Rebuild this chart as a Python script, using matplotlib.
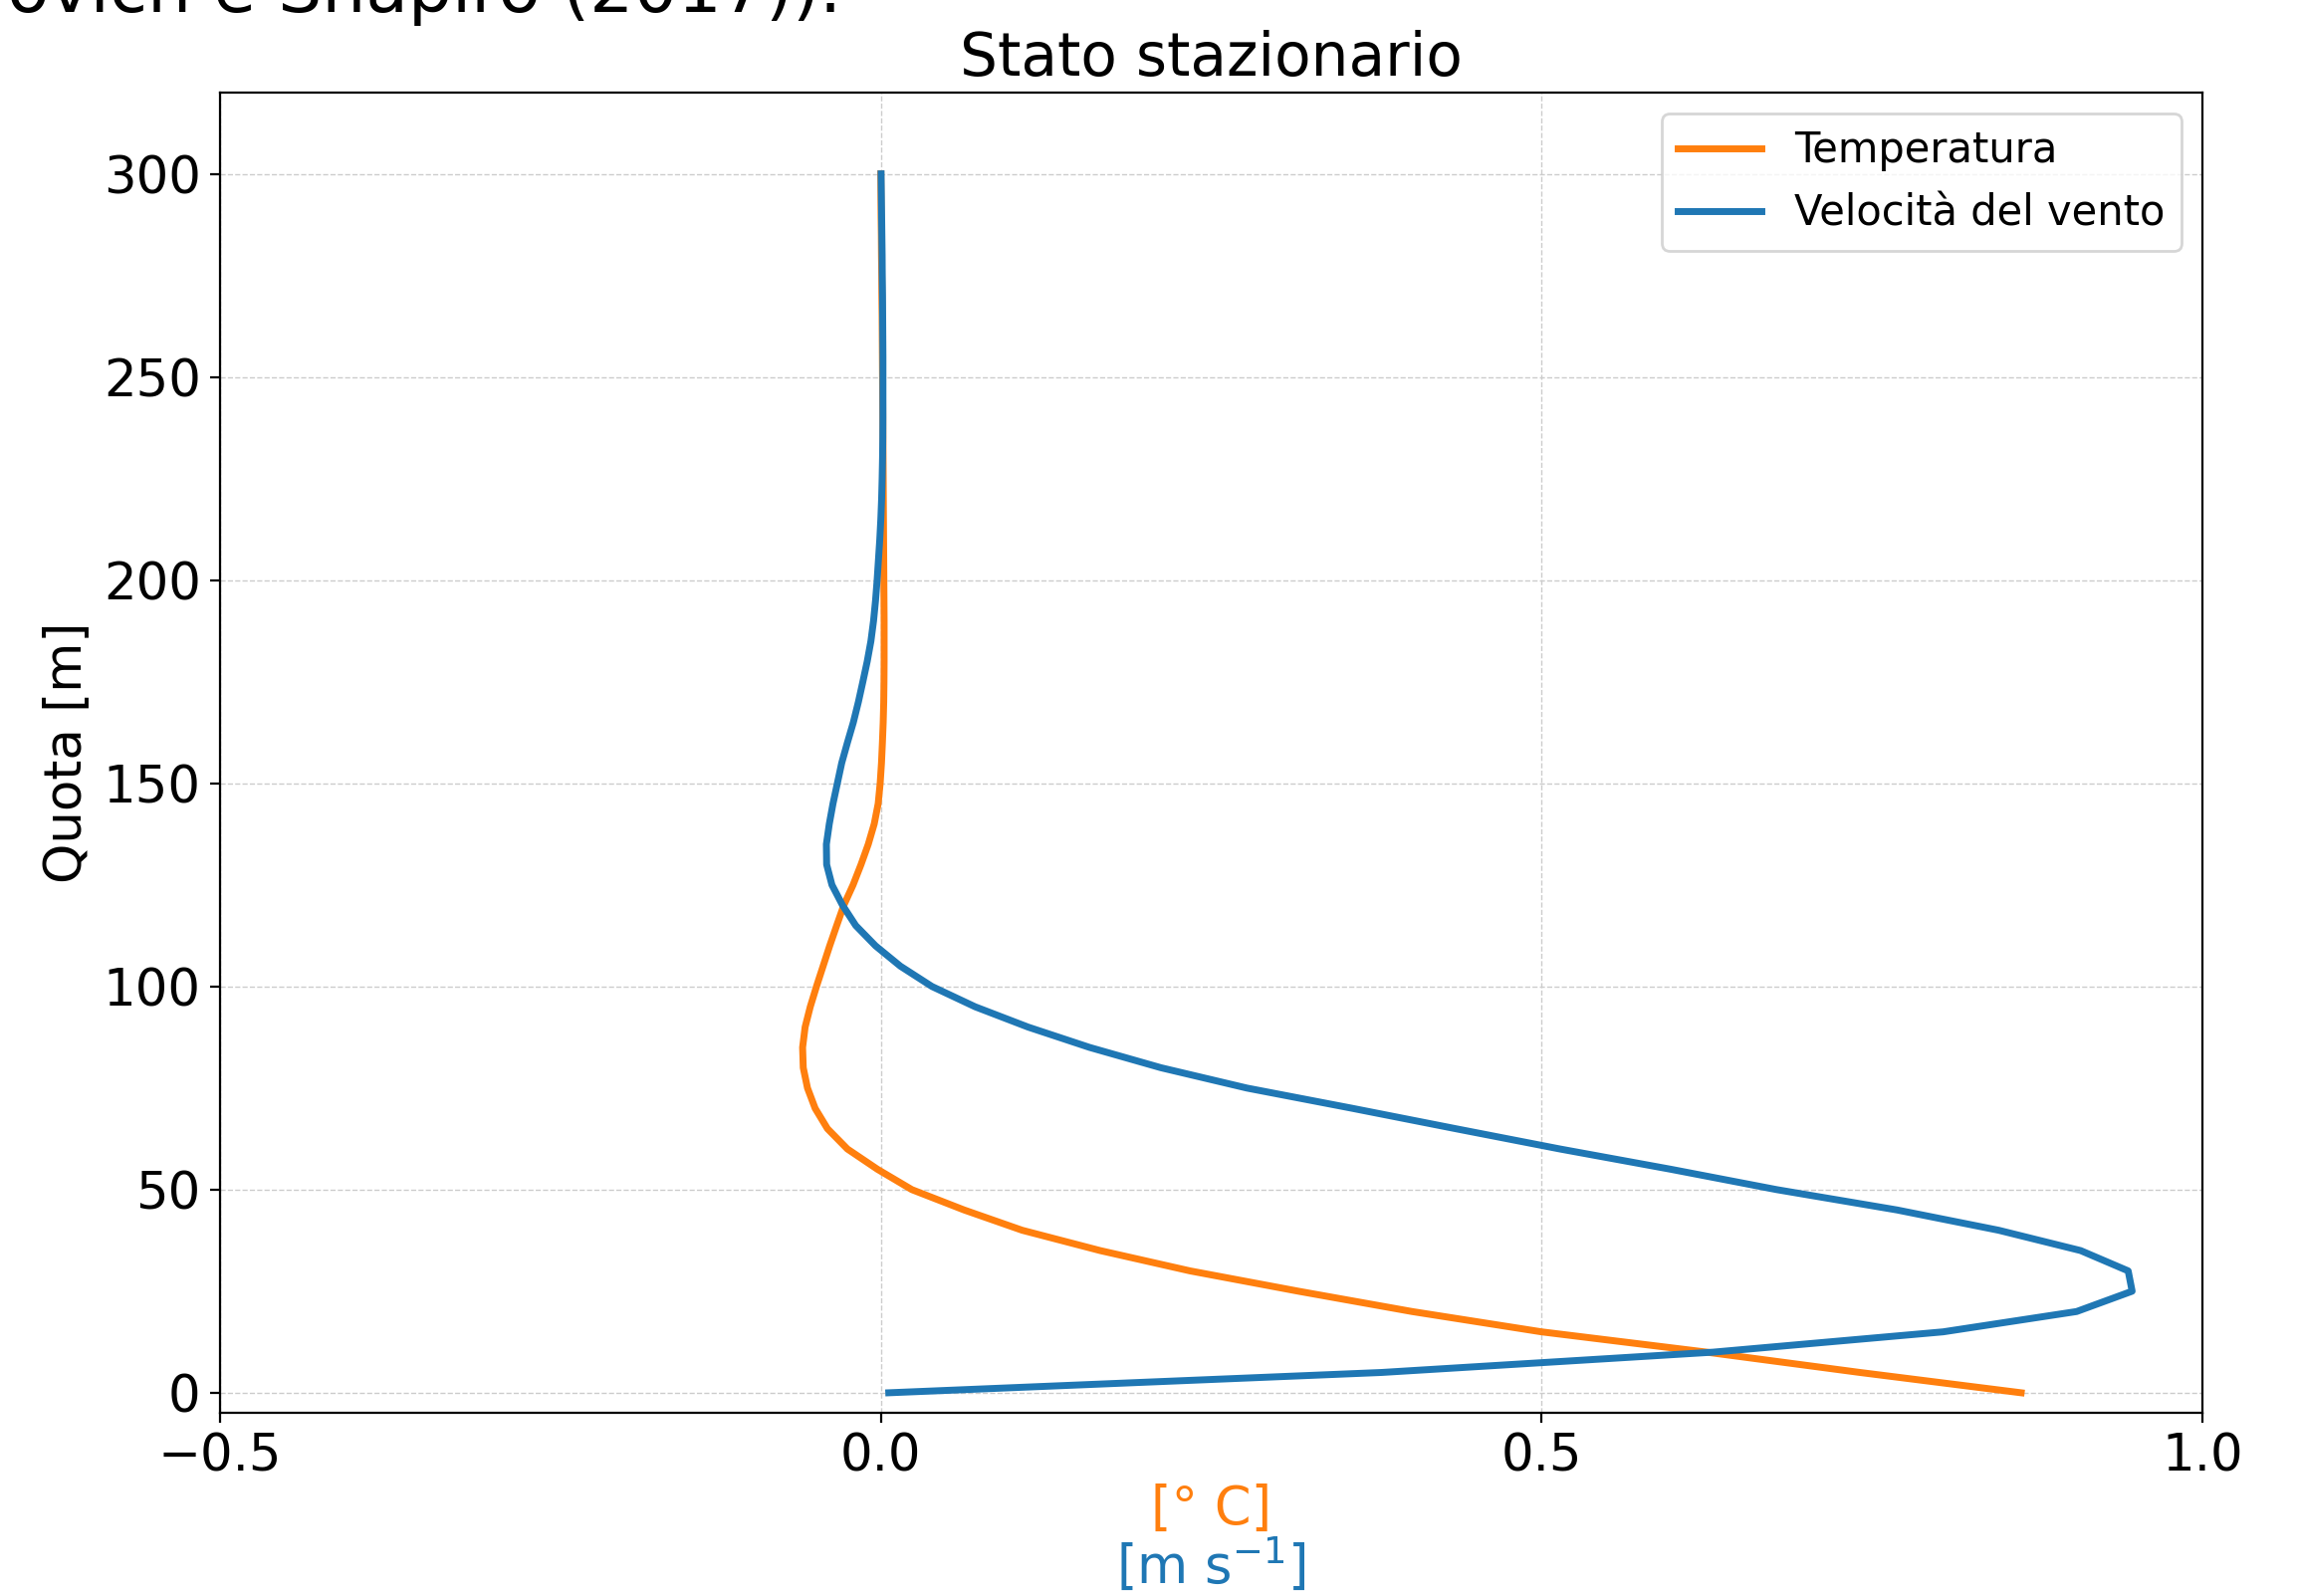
import matplotlib
matplotlib.use("Agg")
import matplotlib.pyplot as plt

# quota (m), sampled every 5 m
quota = [0, 5, 10, 15, 20, 25, 30, 35, 40, 45,
         50, 55, 60, 65, 70, 75, 80, 85, 90, 95,
         100, 105, 110, 115, 120, 125, 130, 135, 140, 145,
         150, 155, 160, 165, 170, 175, 180, 185, 190, 195,
         200, 205, 210, 215, 220, 225, 230, 235, 240, 245,
         250, 255, 260, 265, 270, 275, 280, 285, 290, 295, 300]

# temperatura [° C]
temperatura = [0.863, 0.741, 0.625, 0.500, 0.402, 0.316, 0.234, 0.166, 0.107, 0.063,
               0.0235, -0.0025, -0.0253, -0.0404, -0.0497, -0.0555, -0.0587, -0.0592, -0.0573, -0.0534,
               -0.0487, -0.0437, -0.0387, -0.0334, -0.0280, -0.0210, -0.0150, -0.0095, -0.0050, -0.0020,
               -0.0005, 0.0005, 0.0012, 0.0018, 0.0022, 0.0024, 0.0025, 0.0025, 0.0025, 0.0024,
               0.0023, 0.0022, 0.0021, 0.0020, 0.0019, 0.0018, 0.0017, 0.0016, 0.0015, 0.0014,
               0.0013, 0.0012, 0.0011, 0.0010, 0.0008, 0.0007, 0.0005, 0.0004, 0.0002, 0.0001, 0.0]

# velocita del vento [m s^-1]
vento = [0.006, 0.379, 0.630, 0.804, 0.905, 0.947, 0.944, 0.908, 0.846, 0.769,
         0.678, 0.598, 0.514, 0.435, 0.357, 0.277, 0.212, 0.158, 0.1115, 0.0714,
         0.0387, 0.0148, -0.004, -0.019, -0.029, -0.037, -0.041, -0.0412, -0.039, -0.0362,
         -0.0329, -0.0296, -0.0253, -0.0208, -0.0170, -0.0136, -0.0103, -0.0075, -0.0055, -0.0040,
         -0.0028, -0.0018, -0.0008, 0.0, 0.0006, 0.0010, 0.0013, 0.0015, 0.0016, 0.0016,
         0.0016, 0.0016, 0.0015, 0.0014, 0.0013, 0.0011, 0.0010, 0.0008, 0.0006, 0.0004, 0.0002]

fig = plt.figure(figsize=(11.54, 8.015), dpi=200)
ax = fig.add_axes([0.0958, 0.1146, 0.8625, 0.8274])

ax.plot(temperatura, quota, color='tab:orange', lw=2.5, label='Temperatura')
ax.plot(vento, quota, color='tab:blue', lw=2.5, label='Velocità del vento')

ax.set_xlim(-0.5, 1.0)
ax.set_ylim(-5, 320)
ax.set_xticks([-0.5, 0.0, 0.5, 1.0])
ax.set_yticks([0, 50, 100, 150, 200, 250, 300])
ax.tick_params(labelsize=18.5)
ax.grid(True, ls='--', lw=0.5, color='0.8')

ax.set_title('Stato stazionario', fontsize=21.5)
ax.set_ylabel('Quota [m]', fontsize=18.5)
ax.legend(loc='upper right', fontsize=15)

# two coloured unit labels under the x axis
fig.text(0.527, 0.0543, '[° C]', color='tab:orange', fontsize=19, ha='center', va='center')
fig.text(0.527, 0.0193, r'[m s$^{-1}$]', color='tab:blue', fontsize=19, ha='center', va='center')

# leftover text from the page above, cut by the top edge
fig.text(0.366, 0.9925, 'Fedorovich e Shapiro (2017)).', fontsize=25, ha='right', va='baseline')

fig.savefig('out.png', dpi=200)
